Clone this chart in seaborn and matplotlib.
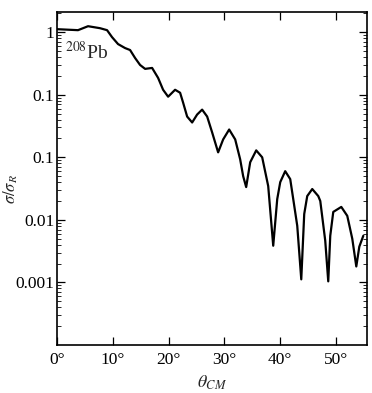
import numpy as np
import pandas as pd
import matplotlib
matplotlib.use("Agg")
import matplotlib.pyplot as plt
import seaborn as sns
from matplotlib.ticker import FixedLocator, FixedFormatter, LogLocator, NullFormatter

# Data (angle in degrees, ratio on the plotted log scale)
theta = [0.0, 3.77, 5.57, 7.72, 8.98, 9.87, 10.95, 12.21, 13.11, 14.0, 14.9, 15.8,
         17.06, 18.13, 19.03, 19.93, 21.18, 22.08, 22.62, 23.34, 24.24, 25.13,
         26.03, 26.93, 27.83, 28.9, 29.8, 30.88, 31.96, 32.85, 33.39, 33.93,
         34.65, 35.73, 36.8, 37.88, 38.78, 39.5, 40.04, 40.93, 41.83, 42.37,
         43.09, 43.81, 44.34, 44.88, 45.78, 46.86, 47.22, 48.11, 48.65, 49.01,
         49.55, 50.99, 52.06, 52.96, 53.68, 54.22, 54.94]
ratio = [1.116, 1.076, 1.245, 1.157, 1.076, 0.833, 0.645, 0.557, 0.518, 0.387, 0.299,
         0.259, 0.268, 0.186, 0.120, 0.0930, 0.120, 0.1076, 0.0747, 0.0448, 0.0360,
         0.0482, 0.0578, 0.0448, 0.0249, 0.0120, 0.0193, 0.0278, 0.0193, 0.00929,
         0.00499, 0.00334, 0.00833, 0.0129, 0.0100, 0.00347, 0.000386, 0.00215,
         0.00401, 0.00600, 0.00448, 0.00215, 0.000803, 0.000112, 0.00124, 0.00240,
         0.00311, 0.00240, 0.00200, 0.000464, 0.000104, 0.000557, 0.00134, 0.00161,
         0.00116, 0.000499, 0.000180, 0.000373, 0.000557]

x_ticks = [0, 10, 20, 30, 40, 50]
x_tick_labels = ["0°", "10°", "20°", "30°", "40°", "50°"]
y_ticks = [1, 0.1, 0.01, 0.001, 0.0001]
y_tick_labels = ["1", "0.1", "0.1", "0.01", "0.001"]

df = pd.DataFrame({"theta": theta, "ratio": ratio})

sns.set_style("ticks")
plt.rcParams["font.family"] = ["Liberation Serif", "DejaVu Serif"]
plt.rcParams["mathtext.fontset"] = "stix"

fig = plt.figure(figsize=(3.72, 3.93), dpi=100)
ax = fig.add_axes([57/372, 1 - 345/393, (367 - 57)/372, (345 - 12)/393])

sns.lineplot(data=df, x="theta", y="ratio", ax=ax, color="black", linewidth=1.6,
             estimator=None, sort=False)
ax.set_yscale("log")
ax.set_xlim(0, 55.6)
ax.set_ylim(1e-5, 2.1)

ax.xaxis.set_major_locator(FixedLocator(x_ticks))
ax.xaxis.set_major_formatter(FixedFormatter(x_tick_labels))
ax.yaxis.set_major_locator(FixedLocator(y_ticks))
ax.yaxis.set_major_formatter(FixedFormatter(y_tick_labels))
ax.yaxis.set_minor_locator(LogLocator(base=10, subs=np.arange(2, 10)))
ax.yaxis.set_minor_formatter(NullFormatter())

ax.tick_params(axis="both", which="major", direction="in", length=6, width=0.9,
               labelsize=12.5, top=True, right=True, colors="black")
ax.tick_params(axis="both", which="minor", direction="in", length=3, width=0.7,
               top=True, right=True)
ax.tick_params(axis="x", pad=5)
ax.tick_params(axis="y", pad=2)
for s in ax.spines.values():
    s.set_linewidth(1.2)
    s.set_color("black")

ax.set_xlabel(r"$\theta_{CM}$", fontsize=13, labelpad=4)
ax.set_ylabel(r"$\sigma/\sigma_R$", fontsize=12)
ax.yaxis.set_label_coords(-0.118, 0.47)
ax.text(1.4, 0.48, r"$^{208}$Pb", fontsize=14, ha="left", va="center")

fig.savefig("out.png", dpi=100, facecolor="white")
